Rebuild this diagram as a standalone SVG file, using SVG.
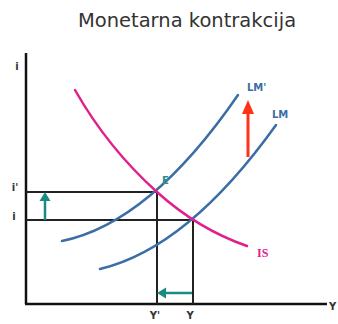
<svg xmlns="http://www.w3.org/2000/svg" width="338" height="324" viewBox="0 0 338 324">
<defs>
<style>
.title{font-family:"DejaVu Sans","Liberation Sans",sans-serif;font-size:19.5px;fill:#333}
.ax{font-family:"DejaVu Sans","Liberation Sans",sans-serif;font-size:10px;font-weight:bold;fill:#333}
.lm{font-family:"DejaVu Sans","Liberation Sans",sans-serif;font-size:10px;font-weight:bold;fill:#3a6ea5}
.is{font-family:"Liberation Serif","DejaVu Serif",serif;font-size:12px;font-weight:bold;fill:#e0208c}
.e{font-family:"DejaVu Sans","Liberation Sans",sans-serif;font-size:10px;font-weight:bold;fill:#2a9088}
.axis{stroke:#111;stroke-width:2.5;fill:none}
.guide{stroke:#222;stroke-width:2;fill:none}
.lmc{stroke:#3a6ea5;stroke-width:2.5;fill:none;stroke-linecap:round}
.isc{stroke:#e0208c;stroke-width:2.5;fill:none;stroke-linecap:round}
.teal{stroke:#1b8a82;stroke-width:2.5;fill:none}
.red{stroke:#ff3218;stroke-width:3;fill:none}
</style>
</defs>
<rect width="338" height="324" fill="#fff"/>
<text class="title" x="187" y="27" text-anchor="middle">Monetarna kontrakcija</text>
<g id="axes">
<line class="axis" x1="26" y1="53" x2="26" y2="304"/>
<line class="axis" x1="25" y1="304" x2="327" y2="304"/>
<text class="ax" x="17" y="70" text-anchor="middle">i</text>
<text class="ax" x="329" y="310">Y</text>
</g>
<g id="guides">
<line class="guide" x1="26" y1="192" x2="157" y2="192"/>
<line class="guide" x1="26" y1="220" x2="193" y2="220"/>
<line class="guide" x1="157" y1="192" x2="157" y2="304"/>
<line class="guide" x1="193" y1="220" x2="193" y2="304"/>
<text class="ax" x="15" y="191" text-anchor="middle">i'</text>
<text class="ax" x="14" y="220" text-anchor="middle">i</text>
<text class="ax" x="155" y="319" text-anchor="middle">Y'</text>
<text class="ax" x="190" y="319" text-anchor="middle">Y</text>
</g>
<g id="LM2">
<path class="lmc" d="M62,241 Q150,223 238,95"/>
<text class="lm" x="247" y="91">LM'</text>
</g>
<g id="LM">
<path class="lmc" d="M100,269 Q188,248 276,125"/>
<text class="lm" x="272" y="118">LM</text>
</g>
<g id="IS">
<path class="isc" d="M75,90 Q108,148 157,192 Q198,229 247,246"/>
<text class="is" x="257" y="257">IS</text>
</g>
<g id="E">
<text class="e" x="162" y="184">E</text>
</g>
<g id="connectors">
<line class="teal" x1="45" y1="220" x2="45" y2="200"/>
<polygon points="45,192 39.5,201 50.5,201" fill="#1b8a82"/>
<line class="teal" x1="192" y1="293" x2="164" y2="293"/>
<polygon points="157,293 166,287.5 166,298.5" fill="#1b8a82"/>
<line class="red" x1="248" y1="157" x2="248" y2="110"/>
<polygon points="248,100 242,114 254,114" fill="#ff3218"/>
</g>
</svg>
